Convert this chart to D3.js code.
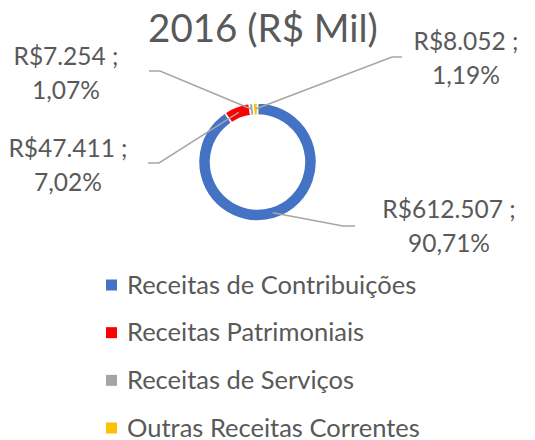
<!DOCTYPE html>
<html>
<head>
<meta charset="utf-8">
<script src="https://d3js.org/d3.v7.min.js"></script>
<style>
  body { margin: 0; background: #fff; }
  text { font-family: Lato, "Open Sans", sans-serif; fill: #595959; }
</style>
</head>
<body>
<div id="vis"></div>
<script>
// data
var categories = ["Receitas de Contribuições", "Receitas Patrimoniais", "Receitas de Serviços", "Outras Receitas Correntes"];
var values = [612507, 47411, 7254, 8052];
var valueLabels = ["R$612.507 ;", "R$47.411 ;", "R$7.254 ;", "R$8.052 ;"];
var percentLabels = ["90,71%", "7,02%", "1,07%", "1,19%"];
var colors = ["#4472C4", "#FF0000", "#A5A5A5", "#FFC000"];
var title = "2016 (R$ Mil)";

var width = 535, height = 440;

var svg = d3.select("#vis")
    .append("svg")
    .attr("width", width)
    .attr("height", height);

// title
svg.append("text")
    .attr("x", 263)
    .attr("y", 42)
    .attr("text-anchor", "middle")
    .style("font-size", "38.5px")
    .text(title);

////////// donut //////////

var cx = 257.5, cy = 162,
    outerR = 59, innerR = 47;

var pie = d3.pie().sort(null).value(function(d) { return d; });
var arc = d3.arc().innerRadius(innerR).outerRadius(outerR);
var arcs = pie(values);

var donut = svg.append("g")
    .attr("transform", "translate(" + cx + "," + cy + ")");

donut.selectAll("path")
    .data(arcs)
    .enter()
    .append("path")
    .attr("d", arc)
    .attr("fill", function(d, i) { return colors[i]; })
    .attr("stroke", "#fff")
    .attr("stroke-width", 1.5);

// label boxes: elbow of leader line, end of leader line, text centre + first baseline
var labelPos = [
  {elbow: [343, 226], end: [355, 226], tx: 449, ty: 218},
  {elbow: [159, 163], end: [148, 163], tx: 68,  ty: 157},
  {elbow: [160, 71],  end: [149, 71],  tx: 66,  ty: 65},
  {elbow: [392, 57],  end: [402, 57],  tx: 466, ty: 50}
];

// leader lines from the middle of each slice
svg.selectAll(".leader")
    .data(arcs)
    .enter()
    .append("polyline")
    .attr("class", "leader")
    .attr("fill", "none")
    .attr("stroke", "#A6A6A6")
    .attr("stroke-width", 1.5)
    .attr("points", function(d, i) {
      var c = arc.centroid(d);
      var p = labelPos[i];
      return [[cx + c[0], cy + c[1]], p.elbow, p.end].map(function(q) { return q.join(","); }).join(" ");
    });

// data labels, two lines each
var labels = svg.selectAll(".label")
    .data(arcs)
    .enter()
    .append("text")
    .attr("class", "label")
    .attr("text-anchor", "middle")
    .style("font-size", "24.5px");

labels.append("tspan")
    .attr("x", function(d, i) { return labelPos[i].tx; })
    .attr("y", function(d, i) { return labelPos[i].ty; })
    .text(function(d, i) { return valueLabels[i]; });

labels.append("tspan")
    .attr("x", function(d, i) { return labelPos[i].tx; })
    .attr("y", function(d, i) { return labelPos[i].ty + 34; })
    .text(function(d, i) { return percentLabels[i]; });

////////// legend //////////

var legendY = d3.scalePoint()
    .domain(categories)
    .range([285, 428]);

var legend = svg.selectAll(".legend")
    .data(categories)
    .enter()
    .append("g")
    .attr("class", "legend")
    .attr("transform", function(d) { return "translate(106," + legendY(d) + ")"; });

legend.append("rect")
    .attr("x", 0)
    .attr("y", -5.5)
    .attr("width", 11)
    .attr("height", 11)
    .attr("fill", function(d, i) { return colors[i]; });

legend.append("text")
    .attr("x", 21)
    .attr("y", 8.5)
    .style("font-size", "25.5px")
    .text(function(d) { return d; });
</script>
</body>
</html>
